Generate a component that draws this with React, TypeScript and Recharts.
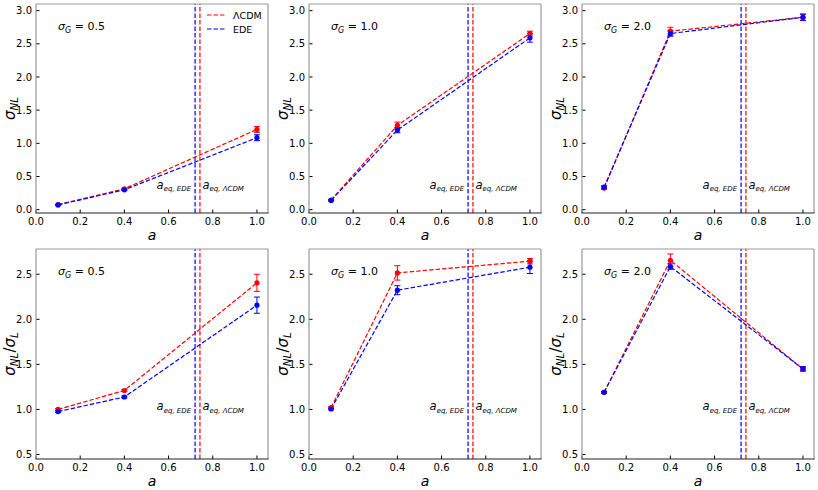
import React from 'react';
import { LineChart, Line, XAxis, YAxis, ErrorBar, ReferenceLine } from 'recharts';

// ---------- data ----------
const aValues = [0.1, 0.4, 1.0];
const xTicks = [0, 0.2, 0.4, 0.6, 0.8, 1.0];
const nlTicks = [0, 0.5, 1.0, 1.5, 2.0, 2.5, 3.0];
const ratioTicks = [0.5, 1.0, 1.5, 2.0, 2.5];
const sigmaGLabels = ['0.5', '1.0', '2.0'];
const seriesNames = ['ΛCDM', 'EDE'];
const aEqEDE = 0.72;
const aEqLCDM = 0.742;

const nlLcdm05 = [0.075, 0.315, 1.21];
const nlLcdm05Err = [0.005, 0.012, 0.045];
const nlEde05 = [0.072, 0.3, 1.085];
const nlEde05Err = [0.005, 0.01, 0.045];

const nlLcdm10 = [0.146, 1.27, 2.655];
const nlLcdm10Err = [0.01, 0.05, 0.035];
const nlEde10 = [0.14, 1.2, 2.59];
const nlEde10Err = [0.01, 0.04, 0.065];

const nlLcdm20 = [0.325, 2.69, 2.9];
const nlLcdm20Err = [0.02, 0.06, 0.05];
const nlEde20 = [0.34, 2.655, 2.9];
const nlEde20Err = [0.02, 0.04, 0.045];

const ratioLcdm05 = [1.0, 1.21, 2.405];
const ratioLcdm05Err = [0.01, 0.01, 0.095];
const ratioEde05 = [0.976, 1.138, 2.157];
const ratioEde05Err = [0.01, 0.01, 0.09];

const ratioLcdm10 = [1.02, 2.515, 2.645];
const ratioLcdm10Err = [0.01, 0.08, 0.03];
const ratioEde10 = [1.005, 2.323, 2.578];
const ratioEde10Err = [0.01, 0.05, 0.07];

const ratioLcdm20 = [1.19, 2.655, 1.448];
const ratioLcdm20Err = [0.01, 0.07, 0.02];
const ratioEde20 = [1.19, 2.585, 1.45];
const ratioEde20Err = [0.01, 0.03, 0.025];

// ---------- layout ----------
const FONT = 'DejaVu Sans';
const RED = '#ff0000';
const BLUE = '#0000ff';
const COL_LEFT = [36, 309, 582];
const PLOT_W = 232;
const ROW_TOP = [4, 249];
const PLOT_H = [209, 210];
const Y_AXIS_W = 36;
const X_AXIS_H = 34;
const TICK_MARGIN = 4;
const TICK_LEN = 3.5;
const AEQ_LABEL_Y = [184.5, 161];
const DASH = '4.5 2';

function buildRows(lcdm: number[], lcdmErr: number[], ede: number[], edeErr: number[]) {
  return aValues.map((a, i) => ({ a, lcdm: lcdm[i], lcdmErr: lcdmErr[i], ede: ede[i], edeErr: edeErr[i] }));
}

const renderXTick = (props: any) => {
  const { x, y, payload } = props;
  const axisY = y - TICK_MARGIN;
  return (
    <g>
      <line x1={x} x2={x} y1={axisY} y2={axisY - TICK_LEN} stroke="#000" strokeWidth={1} />
      <text x={x} y={y} dy="0.75em" textAnchor="middle" fontSize={10} fontFamily={FONT} fill="#000">
        {Number(payload.value).toFixed(1)}
      </text>
    </g>
  );
};

const renderYTick = (props: any) => {
  const { x, y, payload } = props;
  const axisX = x + TICK_MARGIN;
  return (
    <g>
      <line x1={axisX} x2={axisX + TICK_LEN} y1={y} y2={y} stroke="#000" strokeWidth={1} />
      <text x={x} y={y} dy="0.36em" textAnchor="end" fontSize={10} fontFamily={FONT} fill="#000">
        {Number(payload.value).toFixed(1)}
      </text>
    </g>
  );
};

const xLabel = (props: any) => {
  const vb = props.viewBox || {};
  return (
    <text x={vb.x + vb.width / 2} y={vb.y + 27} textAnchor="middle" fontSize={14} fontStyle="italic" fontFamily={FONT} fill="#000">
      a
    </text>
  );
};

const makeYLabel = (ratio: boolean) => (props: any) => {
  const vb = props.viewBox || {};
  const cx = vb.x + 10;
  const cy = vb.y + vb.height / 2;
  return (
    <text transform={`translate(${cx},${cy}) rotate(-90)`} textAnchor="middle" dy="0.3em" fontSize={15} fontFamily={FONT} fill="#000">
      <tspan fontStyle="italic">σ</tspan>
      <tspan fontStyle="italic" fontSize={10.5} dy={3}>NL</tspan>
      {ratio ? (
        <>
          <tspan dy={-3}>/</tspan>
          <tspan fontStyle="italic">σ</tspan>
          <tspan fontStyle="italic" fontSize={10.5} dy={3}>L</tspan>
        </>
      ) : null}
    </text>
  );
};

const makeAeqLabel = (row: number, which: 'EDE' | 'ΛCDM') => (props: any) => {
  const vb = props.viewBox || {};
  const y = vb.y + AEQ_LABEL_Y[row];
  const isEde = which === 'EDE';
  return (
    <text x={isEde ? vb.x - 4 : vb.x + 2.5} y={y} textAnchor={isEde ? 'end' : 'start'} fontFamily={FONT} fill="#000" fontStyle="italic">
      <tspan fontSize={11.5}>a</tspan>
      <tspan fontSize={7} dy={2.5}>{`eq, ${which}`}</tspan>
    </text>
  );
};

type PanelProps = {
  row: number;
  col: number;
  data: any[];
  yDomain: number[];
  yTicks: number[];
  ratio: boolean;
};

function Panel({ row, col, data, yDomain, yTicks, ratio }: PanelProps) {
  const left = COL_LEFT[col] - Y_AXIS_W;
  const top = ROW_TOP[row] - 4;
  const h = PLOT_H[row];
  return (
    <div style={{ position: 'absolute', left, top }}>
      <LineChart
        width={Y_AXIS_W + PLOT_W + 4}
        height={4 + h + X_AXIS_H}
        data={data}
        margin={{ top: 4, right: 4, bottom: 0, left: 0 }}
      >
        <XAxis
          dataKey="a"
          type="number"
          domain={[0, 1.05]}
          ticks={xTicks}
          interval={0}
          allowDataOverflow
          axisLine={false}
          tickLine={false}
          tickSize={0}
          tickMargin={TICK_MARGIN}
          height={X_AXIS_H}
          tick={renderXTick}
          label={xLabel}
        />
        <YAxis
          type="number"
          domain={yDomain}
          ticks={yTicks}
          interval={0}
          allowDataOverflow
          axisLine={false}
          tickLine={false}
          tickSize={0}
          tickMargin={TICK_MARGIN}
          width={Y_AXIS_W}
          tick={renderYTick}
          label={makeYLabel(ratio)}
        />
        <ReferenceLine x={aEqEDE} stroke={BLUE} strokeWidth={1.2} strokeDasharray={DASH} label={makeAeqLabel(row, 'EDE')} />
        <ReferenceLine x={aEqLCDM} stroke={RED} strokeWidth={1.2} strokeDasharray={DASH} label={makeAeqLabel(row, 'ΛCDM')} />
        <Line
          dataKey="lcdm"
          stroke={RED}
          strokeWidth={1.2}
          strokeDasharray={DASH}
          dot={{ r: 2.6, fill: RED, stroke: RED, strokeWidth: 0, strokeDasharray: '' }}
          isAnimationActive={false}
        >
          <ErrorBar dataKey="lcdmErr" width={3} stroke={RED} strokeWidth={1} direction="y" />
        </Line>
        <Line
          dataKey="ede"
          stroke={BLUE}
          strokeWidth={1.2}
          strokeDasharray={DASH}
          dot={{ r: 2.6, fill: BLUE, stroke: BLUE, strokeWidth: 0, strokeDasharray: '' }}
          isAnimationActive={false}
        >
          <ErrorBar dataKey="edeErr" width={3} stroke={BLUE} strokeWidth={1} direction="y" />
        </Line>
      </LineChart>
    </div>
  );
}

function Overlay() {
  const frames: React.ReactNode[] = [];
  [0, 1].forEach((row) => {
    [0, 1, 2].forEach((col) => {
      const x = COL_LEFT[col];
      const y = ROW_TOP[row];
      const w = PLOT_W;
      const h = PLOT_H[row];
      frames.push(
        <g key={`f${row}${col}`}>
          <line x1={x} x2={x + w} y1={y} y2={y} stroke="#999" strokeWidth={1.2} />
          <line x1={x + w} x2={x + w} y1={y} y2={y + h} stroke="#999" strokeWidth={1.2} />
          <line x1={x} x2={x} y1={y} y2={y + h} stroke="#999" strokeWidth={1.2} />
          <line x1={x - 0.6} x2={x + w + 0.6} y1={y + h} y2={y + h} stroke="#222" strokeWidth={1.2} />
          <text x={x + 22} y={y + 26} fontFamily={FONT} fontSize={11} fill="#000">
            <tspan fontStyle="italic">σ</tspan>
            <tspan fontStyle="italic" fontSize={8} dy={2.5}>G</tspan>
            <tspan dy={-2.5}>{` = ${sigmaGLabels[col]}`}</tspan>
          </text>
        </g>
      );
    });
  });
  const legX = COL_LEFT[0] + 171;
  const legY = [15, 29];
  const legColors = [RED, BLUE];
  return (
    <svg width={818} height={490} style={{ position: 'absolute', left: 0, top: 0, pointerEvents: 'none' }}>
      {frames}
      {seriesNames.map((name, i) => (
        <g key={name}>
          <line x1={legX} x2={legX + 18} y1={legY[i]} y2={legY[i]} stroke={legColors[i]} strokeWidth={1.2} strokeDasharray={DASH} />
          <text x={legX + 26} y={legY[i] + 3.5} fontFamily={FONT} fontSize={9.5} fill="#000">{name}</text>
        </g>
      ))}
    </svg>
  );
}

export default function App() {
  const nlData = [
    buildRows(nlLcdm05, nlLcdm05Err, nlEde05, nlEde05Err),
    buildRows(nlLcdm10, nlLcdm10Err, nlEde10, nlEde10Err),
    buildRows(nlLcdm20, nlLcdm20Err, nlEde20, nlEde20Err),
  ];
  const ratioData = [
    buildRows(ratioLcdm05, ratioLcdm05Err, ratioEde05, ratioEde05Err),
    buildRows(ratioLcdm10, ratioLcdm10Err, ratioEde10, ratioEde10Err),
    buildRows(ratioLcdm20, ratioLcdm20Err, ratioEde20, ratioEde20Err),
  ];
  return (
    <div style={{ position: 'absolute', left: 0, top: 0, width: 818, height: 490, background: '#fff', fontFamily: FONT }}>
      {nlData.map((d, col) => (
        <Panel key={`nl${col}`} row={0} col={col} data={d} yDomain={[-0.05, 3.1]} yTicks={nlTicks} ratio={false} />
      ))}
      {ratioData.map((d, col) => (
        <Panel key={`r${col}`} row={1} col={col} data={d} yDomain={[0.45, 2.78]} yTicks={ratioTicks} ratio={true} />
      ))}
      <Overlay />
    </div>
  );
}
